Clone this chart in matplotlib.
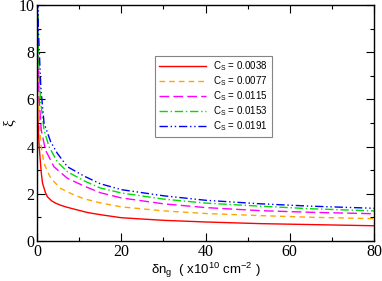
import numpy as np
import matplotlib
matplotlib.use('Agg')
import matplotlib.pyplot as plt
from matplotlib.ticker import MultipleLocator

# values
cs_labels = ['0.0038', '0.0077', '0.0115', '0.0153', '0.0191']

x_red = [0.02, 0.05, 0.1, 0.2, 0.5, 1.0, 1.3, 2.0, 2.45, 3.5, 4.5, 5.6, 7, 8.5, 10, 12, 15, 20, 30, 40, 53, 65, 80]
y_red = [10.5, 7.5, 6.2, 5.2, 4.0, 2.9, 2.45, 2.05, 1.88, 1.70, 1.60, 1.52, 1.44, 1.37, 1.30, 1.21, 1.12, 0.99, 0.88, 0.81, 0.74, 0.70, 0.65]

x_orange = [0.02, 0.1, 0.3, 0.87, 1.66, 3.25, 5.6, 8, 11, 15, 20, 30, 40, 53, 65, 80]
y_orange = [12, 8, 6, 4.14, 3.29, 2.66, 2.23, 2.02, 1.80, 1.62, 1.45, 1.28, 1.17, 1.08, 1.01, 0.95]

x_magenta = [0.05, 0.2, 0.5, 1.0, 2.0, 4.0, 7.2, 11.2, 15, 20, 30, 40, 53, 65, 80]
y_magenta = [12, 8, 6, 4.7, 3.86, 3.15, 2.66, 2.33, 2.05, 1.83, 1.58, 1.42, 1.29, 1.22, 1.16]

x_green = [0.05, 0.3, 0.8, 1.66, 2.85, 4.8, 7.2, 11.2, 15, 20, 30, 40, 53, 65, 80]
y_green = [13, 8, 6, 4.7, 4.0, 3.36, 2.94, 2.55, 2.25, 2.04, 1.78, 1.61, 1.48, 1.37, 1.28]

x_blue = [0.05, 0.3, 0.9, 1.66, 3.25, 4.8, 7.2, 11.2, 15, 20, 30, 40, 53, 65, 80]
y_blue = [14, 9, 6.5, 5.0, 4.2, 3.72, 3.15, 2.75, 2.43, 2.18, 1.92, 1.73, 1.58, 1.48, 1.39]

series = [
    (x_red, y_red, '#ff0000', '-'),
    (x_orange, y_orange, '#ffa500', (0, (4, 3))),
    (x_magenta, y_magenta, '#ff00ff', (0, (7, 3))),
    (x_green, y_green, '#00dd00', (0, (6, 2, 1, 2))),
    (x_blue, y_blue, '#0000ff', (0, (6, 2, 1, 2, 1, 2))),
]

fig = plt.figure(figsize=(3.82, 2.81), dpi=100)
ax = fig.add_axes([0.097, 0.142, 0.882, 0.840])

for (xs, ys, col, ls), lab in zip(series, cs_labels):
    ax.plot(xs, ys, color=col, linestyle=ls, linewidth=1.0,
            label=r'$\mathregular{C_S}$ = ' + lab)

ax.set_xlim(0, 80)
ax.set_ylim(0, 10)
ax.xaxis.set_major_locator(MultipleLocator(20))
ax.xaxis.set_minor_locator(MultipleLocator(10))
ax.yaxis.set_major_locator(MultipleLocator(2))
ax.yaxis.set_minor_locator(MultipleLocator(1))
ax.tick_params(which='both', direction='in', top=True, right=True, width=0.8, pad=2)
ax.tick_params(which='major', length=6)
ax.tick_params(which='minor', length=3)
for lbl in ax.get_xticklabels() + ax.get_yticklabels():
    lbl.set_family('Liberation Serif')
    lbl.set_fontsize(11.5)
for sp in ax.spines.values():
    sp.set_linewidth(1.0)

ax.set_xlabel(r'$\mathregular{\delta n_g}$  ( x10$^{\mathregular{10}}$ cm$^{\mathregular{-2}}$ )',
              family='Liberation Sans', fontsize=9.5, labelpad=1)
ax.set_ylabel('ξ', family='Liberation Serif', fontsize=11, labelpad=2)

leg = ax.legend(loc='upper left', bbox_to_anchor=(0.35, 0.785), fontsize=7,
                handlelength=4.8, frameon=True, fancybox=False, borderaxespad=0,
                labelspacing=0.12, handletextpad=0.8, borderpad=0.4)
leg.get_frame().set_edgecolor('#666666')
leg.get_frame().set_linewidth(0.8)
for t in leg.get_texts():
    t.set_family('Liberation Sans')

fig.savefig('out.png', dpi=100)
